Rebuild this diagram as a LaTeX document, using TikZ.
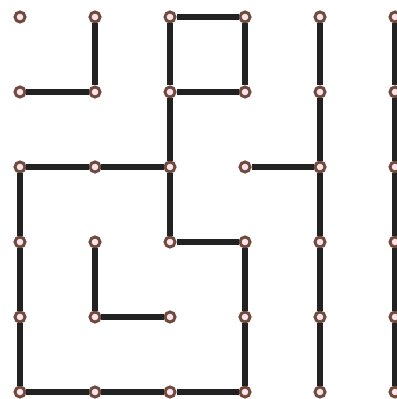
\documentclass[tikz,border=0pt]{standalone}
\definecolor{dotrim}{HTML}{6E4B3E}
\definecolor{dotfill}{HTML}{FDE3EC}
\definecolor{wall}{HTML}{222222}
\begin{document}
\begin{tikzpicture}[x=1.5cm, y=1.5cm,
      dot/.style={circle, draw=dotrim, fill=dotfill, line width=1.7pt, minimum size=0.2cm, inner sep=0pt},
      link/.style={draw=wall, line width=3pt}]
    \useasboundingbox (-0.2667,-0.0933) rectangle (5.0133,5.2267);
    % grid of dots, n-col-row, row 0 at the top
    \foreach \c in {0,...,5}
      \foreach \r in {0,...,5}
        \node[dot] (n-\c-\r) at (\c,5-\r) {};
    % maze walls
    \foreach \a/\b in {2-0/3-0, 1-0/1-1, 2-0/2-1, 3-0/3-1, 0-1/1-1, 2-1/3-1,
                       2-1/2-2, 0-2/1-2, 1-2/2-2, 3-2/4-2, 0-2/0-3, 0-3/0-4, 0-4/0-5,
                       2-2/2-3, 2-3/3-3, 1-3/1-4, 1-4/2-4, 3-3/3-4, 3-4/3-5,
                       0-5/1-5, 1-5/2-5, 2-5/3-5,
                       4-0/4-1, 4-1/4-2, 4-2/4-3, 4-3/4-4, 4-4/4-5,
                       5-0/5-1, 5-1/5-2, 5-2/5-3, 5-3/5-4, 5-4/5-5}
      \draw[link] (n-\a) -- (n-\b);
\end{tikzpicture}
\end{document}
